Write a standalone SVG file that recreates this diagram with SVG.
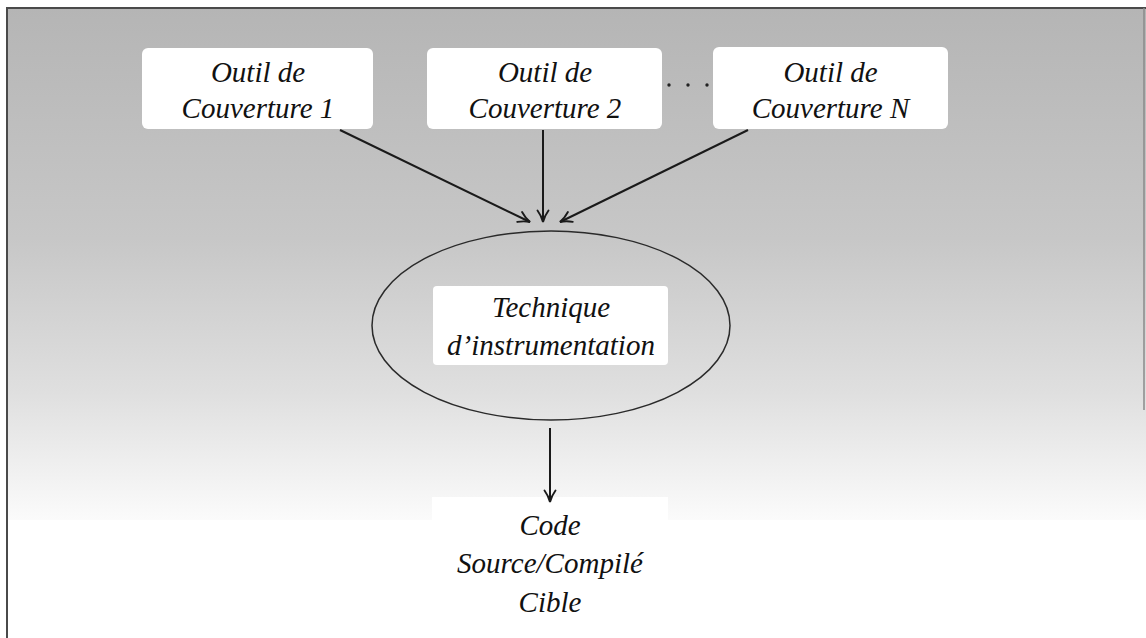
<svg xmlns="http://www.w3.org/2000/svg" width="1146" height="638" viewBox="0 0 1146 638">
  <defs>
    <linearGradient id="bg" x1="0" y1="0" x2="0" y2="1">
      <stop offset="0" stop-color="#b5b5b5"/>
      <stop offset="0.45" stop-color="#c7c7c7"/>
      <stop offset="0.75" stop-color="#dfdfdf"/>
      <stop offset="1" stop-color="#fbfbfb"/>
    </linearGradient>
    <marker id="arrow" viewBox="0 0 14 14" refX="13" refY="7" markerWidth="14" markerHeight="14" markerUnits="userSpaceOnUse" orient="auto">
      <path d="M1.5,1.5 Q7,5.5 13,7 Q7,8.5 1.5,12.5" fill="none" stroke="#1a1a1a" stroke-width="1.9" stroke-linecap="round"/>
    </marker>
    <style>
      .box { fill: #ffffff; stroke: none; }
      .lbl { font-family: "Liberation Serif", "DejaVu Serif", serif; font-style: italic; font-size: 29px; fill: #111111; text-anchor: middle; }
      .edge { fill: none; stroke: #1a1a1a; stroke-width: 2; marker-end: url(#arrow); }
      .frame { stroke: #4a4a4a; stroke-width: 2; fill: none; }
    </style>
  </defs>

  <!-- page and shaded panel -->
  <rect x="0" y="0" width="1146" height="638" fill="#ffffff"/>
  <rect x="8" y="8" width="1138" height="512" fill="url(#bg)"/>
  <rect x="432" y="497" width="236" height="141" fill="#ffffff"/>
  <path class="frame" d="M7,638 V8 H1146"/>
  <path d="M1144,8 V410" stroke="#8a8a8a" stroke-width="1.5" fill="none"/>

  <!-- coverage tools -->
  <g id="outil1">
    <rect class="box" x="142" y="48" width="231" height="81" rx="6"/>
    <text class="lbl" x="258" y="82">Outil de</text>
    <text class="lbl" x="258" y="118">Couverture 1</text>
  </g>
  <g id="outil2">
    <rect class="box" x="427" y="48" width="235" height="81" rx="6"/>
    <text class="lbl" x="545" y="82">Outil de</text>
    <text class="lbl" x="545" y="118">Couverture 2</text>
  </g>
  <g id="ellipsis">
    <circle cx="669" cy="85" r="1.7" fill="#222"/>
    <circle cx="688" cy="85" r="1.7" fill="#222"/>
    <circle cx="707" cy="85" r="1.7" fill="#222"/>
  </g>
  <g id="outilN">
    <rect class="box" x="713" y="47" width="235" height="82" rx="6"/>
    <text class="lbl" x="830.5" y="82">Outil de</text>
    <text class="lbl" x="830.5" y="118">Couverture N</text>
  </g>

  <!-- instrumentation technique -->
  <g id="technique">
    <ellipse cx="551" cy="325.5" rx="179" ry="94.5" fill="none" stroke="#2a2a2a" stroke-width="1.5"/>
    <rect class="box" x="433" y="286" width="235" height="79" rx="4"/>
    <text class="lbl" x="551" y="317">Technique</text>
    <text class="lbl" x="551" y="355">d’instrumentation</text>
  </g>

  <!-- target code -->
  <g id="cible">
    <text class="lbl" x="550" y="535">Code</text>
    <text class="lbl" x="550" y="573">Source/Compilé</text>
    <text class="lbl" x="550" y="612">Cible</text>
  </g>

  <!-- connectors -->
  <g id="edges">
    <line class="edge" x1="340" y1="130" x2="530" y2="222"/>
    <line class="edge" x1="543" y1="130" x2="543" y2="222"/>
    <line class="edge" x1="748" y1="130" x2="560" y2="222"/>
    <line class="edge" x1="550" y1="428" x2="550" y2="502"/>
  </g>
</svg>
